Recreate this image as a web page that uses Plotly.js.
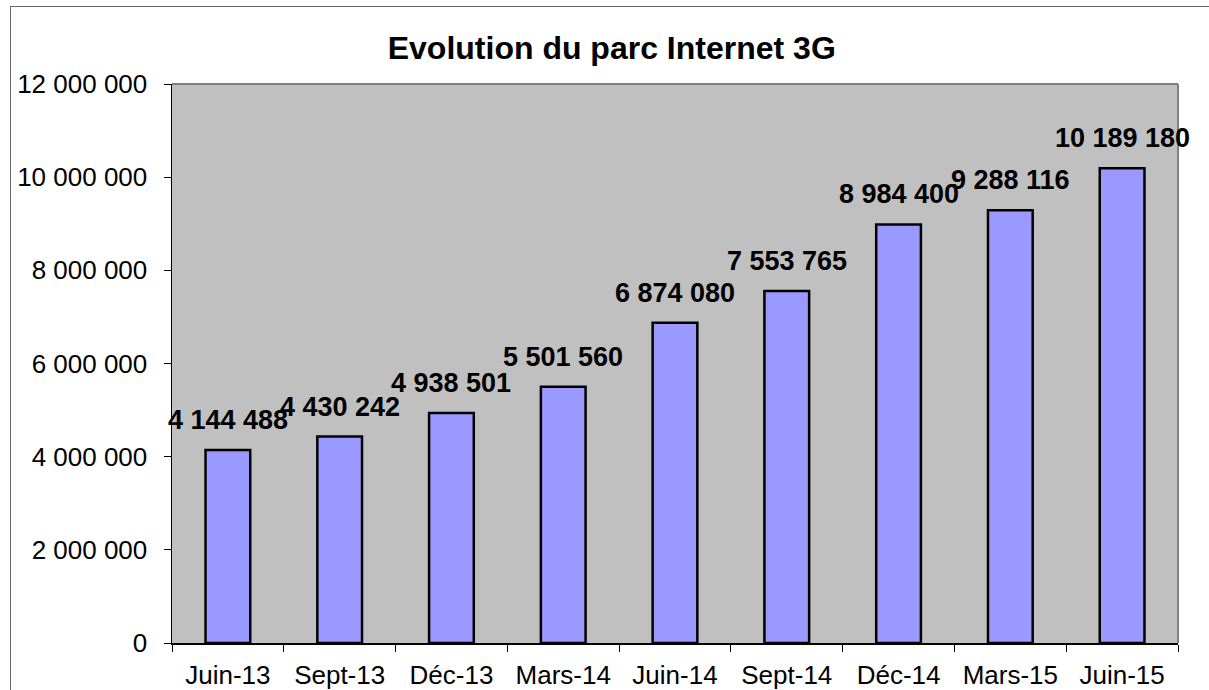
<!DOCTYPE html>
<html>
<head>
<meta charset="utf-8">
<script src="https://cdn.plot.ly/plotly-3.0.1.min.js"></script>
<style>
  html, body { margin: 0; padding: 0; background: #ffffff; }
  #chart { position: absolute; left: 0; top: 0; width: 1209px; height: 690px; }
  #frame { position: absolute; left: 10px; top: 6px; width: 1199px; height: 684px;
           border-left: 1px solid #666; border-top: 1px solid #666; box-sizing: border-box;
           pointer-events: none; }
</style>
</head>
<body>
<div id="chart"></div>
<div id="frame"></div>
<script>
const categories = ["Juin-13", "Sept-13", "Déc-13", "Mars-14", "Juin-14", "Sept-14", "Déc-14", "Mars-15", "Juin-15"];
const values = [4144488, 4430242, 4938501, 5501560, 6874080, 7553765, 8984400, 9288116, 10189180];
const chartTitle = "Evolution du parc Internet 3G";

function fmt(v) {
  return String(v).replace(/\B(?=(\d{3})+(?!\d))/g, " ");
}

const trace = {
  type: "bar",
  x: categories,
  y: values,
  width: 0.4,
  marker: { color: "#9999FF", line: { color: "#000000", width: 2.5 } },
  hoverinfo: "none"
};

const annotations = categories.map((c, i) => ({
  x: c, y: values[i], xref: "x", yref: "y",
  text: "<b>" + fmt(values[i]) + "</b>",
  showarrow: false, yanchor: "bottom", xanchor: "center", yshift: 13,
  font: { family: "Liberation Sans, Arial, sans-serif", size: 27, color: "#000000" }
}));

const layout = {
  width: 1209, height: 690,
  margin: { l: 172, r: 31, t: 84, b: 47, autoexpand: false },
  paper_bgcolor: "rgba(0,0,0,0)",
  plot_bgcolor: "#C0C0C0",
  separators: ", ",
  showlegend: false,
  font: { family: "Liberation Sans, Arial, sans-serif", size: 26, color: "#000000" },
  title: {
    text: "<b>" + chartTitle + "</b>",
    font: { family: "Liberation Sans, Arial, sans-serif", size: 32, color: "#000000" },
    xref: "container", x: 0.506, xanchor: "center",
    yref: "container", y: 1 - 48 / 690, yanchor: "middle"
  },
  xaxis: {
    type: "category",
    range: [-0.5, categories.length - 0.5],
    automargin: false,
    showgrid: false, zeroline: false,
    showline: true, linecolor: "#000000", linewidth: 1.5,
    ticks: "outside", ticklen: 7, tickcolor: "#000000", tickwidth: 1,
    tickson: "boundaries",
    ticklabelstandoff: 8,
    tickfont: { size: 26 },
    mirror: false
  },
  yaxis: {
    automargin: false,
    range: [0, 12000000], dtick: 2000000, tick0: 0,
    tickformat: ",d",
    showgrid: false, zeroline: false,
    showline: true, linecolor: "#000000", linewidth: 1.5,
    ticks: "outside", ticklen: 7, tickcolor: "#000000", tickwidth: 1,
    ticklabelstandoff: 11,
    tickfont: { size: 26 }
  },
  shapes: [
    { type: "line", xref: "paper", yref: "paper", x0: 0, x1: 1, y0: 1, y1: 1,
      line: { color: "#808080", width: 2 } },
    { type: "line", xref: "paper", yref: "paper", x0: 1, x1: 1, y0: 0, y1: 1,
      line: { color: "#808080", width: 2 } }
  ],
  annotations: annotations
};

Plotly.newPlot("chart", [trace], layout, { displayModeBar: false, staticPlot: true });
</script>
</body>
</html>
